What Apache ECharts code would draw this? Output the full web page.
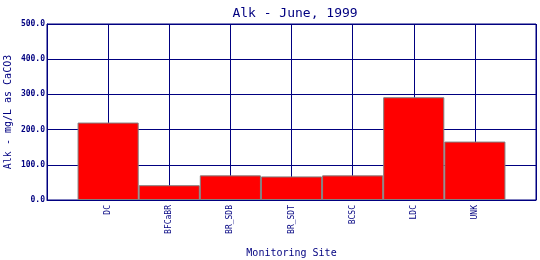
<!DOCTYPE html>
<html>
<head>
<meta charset="utf-8">
<script src="https://cdn.jsdelivr.net/npm/echarts@6/dist/echarts.min.js"></script>
<style>html,body{margin:0;padding:0;background:#fff}#c{width:540px;height:260px}</style>
</head>
<body>
<div id="c"></div>
<script>
const categories = ['DC', 'BFCaBR', 'BR_SDB', 'BR_SDT', 'BCSC', 'LDC', 'UNK'];
const alkValues = [220, 42, 70, 67, 70, 292, 166];
const yTicks = [0, 100, 200, 300, 400, 500];

const NAVY = '#000080';
const MONO = '"DejaVu Sans Mono", "Liberation Mono", monospace';
const axisCats = [''].concat(categories, ['']);
const seriesData = [null].concat(alkValues, [null]);

const chart = echarts.init(document.getElementById('c'), null, {renderer: 'canvas'});
chart.setOption({
  animation: false,
  backgroundColor: '#fff',
  title: {
    text: 'Alk - June, 1999',
    left: 290, top: 2, textAlign: 'center',
    textStyle: {color: NAVY, fontFamily: MONO, fontSize: 13, fontWeight: 'normal'}
  },
  grid: {left: 47, right: 4, top: 24, bottom: 60, show: true, borderColor: NAVY, borderWidth: 1,
         containLabel: false, outerBoundsMode: 'none'},
  xAxis: {
    type: 'category',
    data: axisCats,
    boundaryGap: false,
    name: 'Monitoring Site',
    nameLocation: 'middle',
    nameGap: 48,
    nameMoveOverlap: false,
    nameTextStyle: {color: NAVY, fontFamily: MONO, fontSize: 10},
    axisLine: {lineStyle: {color: NAVY, width: 1}},
    axisTick: {show: false},
    splitLine: {show: true, lineStyle: {color: NAVY, width: 1, opacity: 1}},
    axisLabel: {
      interval: 0, rotate: 90, margin: 5,
      color: NAVY, fontFamily: MONO, fontSize: 8
    }
  },
  yAxis: {
    type: 'value',
    min: yTicks[0], max: yTicks[yTicks.length - 1], interval: 100,
    name: 'Alk - mg/L as CaCO3',
    nameLocation: 'middle',
    nameRotate: 90,
    nameGap: 34,
    nameMoveOverlap: false,
    nameTextStyle: {color: NAVY, fontFamily: MONO, fontSize: 10},
    axisLine: {show: true, lineStyle: {color: NAVY, width: 1}},
    axisTick: {show: false},
    splitLine: {show: true, lineStyle: {color: NAVY, width: 1}},
    axisLabel: {
      margin: 2,
      color: NAVY, fontFamily: MONO, fontSize: 8, fontWeight: 'bold',
      formatter: v => v.toFixed(1)
    }
  },
  series: [{
    type: 'bar',
    data: seriesData,
    barWidth: '100%',
    itemStyle: {color: '#ff0000', borderColor: '#808080', borderWidth: 1}
  }]
});
</script>
</body>
</html>
